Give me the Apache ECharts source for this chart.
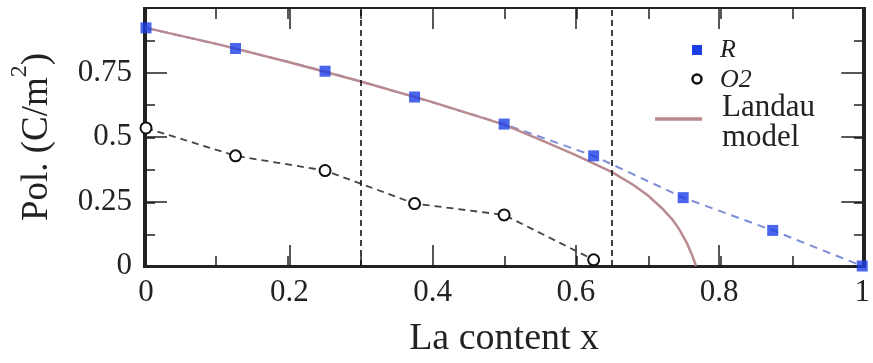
<!DOCTYPE html>
<html>
<head>
<meta charset="utf-8">
<script src="https://cdn.jsdelivr.net/npm/echarts@6/dist/echarts.min.js"></script>
<style>html,body{margin:0;padding:0;background:#fff}#c{width:873px;height:363px}</style>
</head>
<body>
<div id="c"></div>
<script>
// La content x values
const xR = [0, 0.125, 0.25, 0.375, 0.5, 0.625, 0.75, 0.875, 1];
const polR = [0.923, 0.843, 0.755, 0.655, 0.55, 0.427, 0.265, 0.138, 0.0];
const xO2 = [0, 0.125, 0.25, 0.375, 0.5, 0.625];
const polO2 = [0.535, 0.427, 0.37, 0.242, 0.198, 0.024];
const landauX = [0, 0.1, 0.2, 0.3, 0.4, 0.5, 0.55, 0.6, 0.65, 0.68, 0.70, 0.72, 0.735, 0.745, 0.755, 0.762, 0.768];
const landauY = [0.923, 0.86, 0.79, 0.715, 0.635, 0.548, 0.49, 0.43, 0.365, 0.315, 0.275, 0.225, 0.18, 0.14, 0.09, 0.045, 0.0];
const boundaryX = [0.3, 0.65];
const xTicks = [0, 0.2, 0.4, 0.6, 0.8, 1];
const yTicks = [0, 0.25, 0.5, 0.75];

const zip = (a, b) => a.map((v, i) => [v, b[i]]);
const serif = 'Liberation Serif';
const ink = '#222';

function axis(gridIndex, pos, interval, tickLen, extra) {
  return Object.assign({
    gridIndex: gridIndex,
    type: 'value', min: 0, max: 1, interval: interval, position: pos,
    axisLine: { show: true, onZero: false, lineStyle: { color: ink, width: 2 } },
    axisTick: { show: true, inside: true, length: tickLen, lineStyle: { color: ink, width: 1.5 } },
    axisLabel: { show: false },
    splitLine: { show: false }
  }, extra || {});
}

const gridRect = { left: 144, right: 8, top: 8, bottom: 96 };

const chart = echarts.init(document.getElementById('c'));
chart.setOption({
  animation: false,
  backgroundColor: '#fff',
  grid: [Object.assign({}, gridRect), Object.assign({}, gridRect)],
  xAxis: [
    axis(0, 'bottom', 0.2, 21, {
      name: 'La content x', nameLocation: 'middle', nameGap: 54,
      nameTextStyle: { fontFamily: serif, fontSize: 38, color: ink },
      axisLabel: { show: true, fontFamily: serif, fontSize: 31, color: ink, margin: 11,
        formatter: v => xTicks.some(t => Math.abs(t - v) < 1e-9) ? String(+v.toFixed(2)) : '' }
    }),
    axis(0, 'top', 0.2, 21),
    axis(1, 'bottom', 0.1, 11),
    axis(1, 'top', 0.1, 11)
  ],
  yAxis: [
    axis(0, 'left', 0.25, 21, {
      name: '{a|Pol. (C/m}{s|2}{a|)}', nameLocation: 'middle', nameGap: 90,
      nameTextStyle: { fontFamily: serif, fontSize: 37, color: ink,
        rich: {
          a: { fontFamily: serif, fontSize: 37, color: ink, lineHeight: 48, verticalAlign: 'bottom' },
          s: { fontFamily: serif, fontSize: 24, color: ink, lineHeight: 48, verticalAlign: 'top' }
        } },
      axisLabel: { show: true, fontFamily: serif, fontSize: 31, color: ink, margin: 14,
        formatter: v => yTicks.some(t => Math.abs(t - v) < 1e-9) ? String(+v.toFixed(2)) : '' }
    }),
    axis(0, 'right', 0.25, 21),
    axis(1, 'left', 0.125, 11),
    axis(1, 'right', 0.125, 11)
  ],
  series: [
    {
      type: 'line', name: 'R-line', data: zip(xR, polR), symbol: 'none', z: 2,
      lineStyle: { color: '#7d8dd6', width: 2, type: [8, 6] }
    },
    {
      type: 'line', name: 'O2', data: zip(xO2, polO2), z: 3,
      symbol: 'emptyCircle', symbolSize: 11,
      itemStyle: { color: '#111', borderWidth: 2.6 },
      lineStyle: { color: '#444', width: 1.8, type: [7, 5] },
      markLine: {
        silent: true, symbol: 'none', label: { show: false },
        lineStyle: { color: '#111', width: 1.6, type: [6, 4] },
        data: boundaryX.map(v => ({ xAxis: v }))
      }
    },
    {
      type: 'line', name: 'Landau model', data: zip(landauX, landauY), symbol: 'none', z: 4,
      lineStyle: { color: '#b98a90', width: 2.5 }
    },
    {
      type: 'scatter', name: 'R', data: zip(xR, polR), z: 5,
      symbol: 'rect', symbolSize: 11,
      itemStyle: { color: '#1b3fe6' }
    }
  ],
  graphic: [
    { type: 'rect', shape: { x: 692, y: 45, width: 10, height: 10 }, style: { fill: '#1b3fe6' } },
    { type: 'text', x: 720, y: 50, style: { text: 'R', font: 'italic 26px "Liberation Serif"', fill: ink, verticalAlign: 'middle' } },
    { type: 'circle', shape: { cx: 697, cy: 79, r: 4.5 }, style: { fill: '#fff', stroke: '#111', lineWidth: 2.5 } },
    { type: 'text', x: 720, y: 80, style: { text: 'O2', font: 'italic 26px "Liberation Serif"', fill: ink, verticalAlign: 'middle' } },
    { type: 'line', shape: { x1: 655, y1: 119, x2: 702, y2: 119 }, style: { stroke: '#b98a90', lineWidth: 3.5 } },
    { type: 'text', x: 722, y: 108, style: { text: 'Landau', font: '31px "Liberation Serif"', fill: ink, verticalAlign: 'middle' } },
    { type: 'text', x: 722, y: 138, style: { text: 'model', font: '31px "Liberation Serif"', fill: ink, verticalAlign: 'middle' } }
  ]
});
</script>
</body>
</html>
